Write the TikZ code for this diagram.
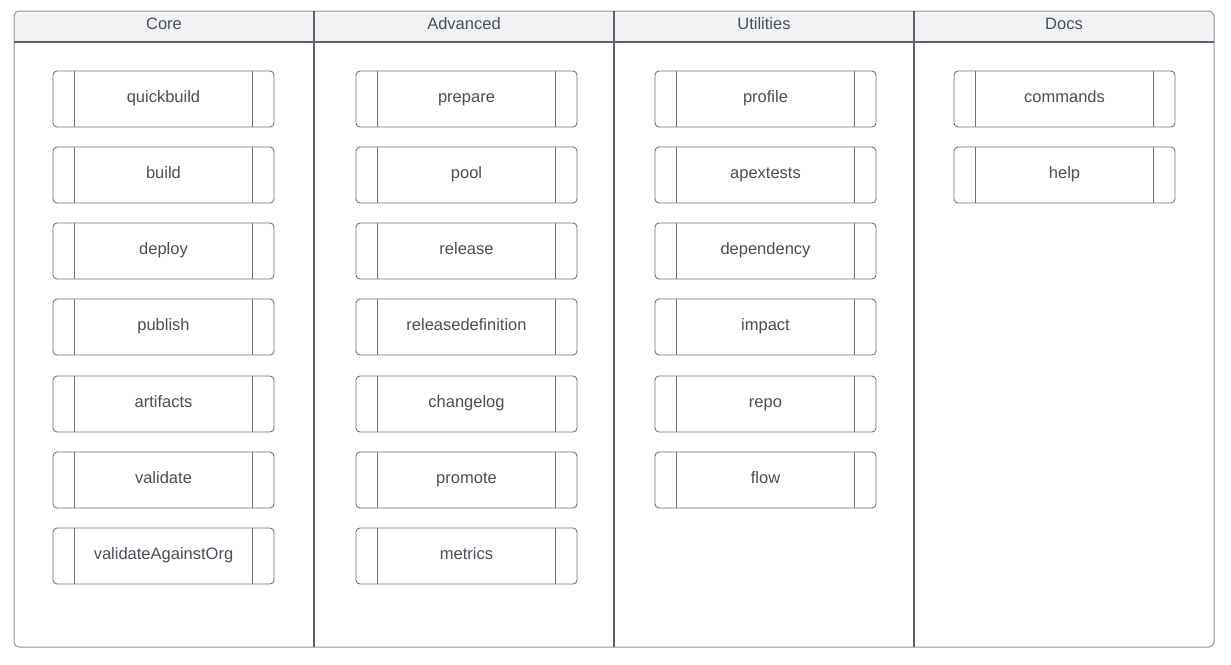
\documentclass[tikz,border=0pt]{standalone}
\usepackage{fontspec}
\setmainfont{Liberation Sans}
\definecolor{txt}{HTML}{4A4F57}
\definecolor{hdrfill}{HTML}{F1F2F4}
\definecolor{frame}{HTML}{8E929A}
\definecolor{divider}{HTML}{5F636A}
\definecolor{nodeline}{HTML}{6E727A}
\tikzset{
  x=1pt,y=-1pt,
  cmd/.style={draw=nodeline,line width=0.9pt,rounded corners=4pt,minimum width=221pt,minimum height=56pt,
    inner sep=0pt,text height=11.5pt,text depth=5pt,text=txt,font=\fontsize{16.5}{19}\selectfont,fill=white},
  hdr/.style={text=txt,text height=11.5pt,text depth=5pt,inner sep=0pt,font=\fontsize{16.5}{19}\selectfont},
}
\newcommand{\cmdnode}[3]{%
  \node[cmd] (#1) at #2 {#3};
  \draw[nodeline,line width=0.9pt] ([xshift=22pt]#1.north west) -- ([xshift=22pt]#1.south west);
  \draw[nodeline,line width=0.9pt] ([xshift=-22pt]#1.north east) -- ([xshift=-22pt]#1.south east);
}
\begin{document}
\begin{tikzpicture}
\useasboundingbox (0,0) rectangle (1231,664);
% header band
\fill[hdrfill,rounded corners=5pt] (14,11) rectangle (1214,42);
\fill[hdrfill] (14,30) rectangle (1214,42);
% outer frame
\draw[frame,line width=1pt,rounded corners=5pt] (14,11) rectangle (1214,647);
\draw[divider,line width=1.1pt] (14,42) -- (1214,42);
\foreach \xx in {314,614,914}{\draw[divider,line width=1.1pt] (\xx,11) -- (\xx,647);}
% headers
\node[hdr] (hcore) at (164,26) {Core};
\node[hdr] (hadv) at (464,26) {Advanced};
\node[hdr] (hutil) at (764,26) {Utilities};
\node[hdr] (hdocs) at (1064,26) {Docs};
% Core
\cmdnode{quickbuild}{(163.5,99)}{quickbuild}
\cmdnode{build}{(163.5,175)}{build}
\cmdnode{deploy}{(163.5,251)}{deploy}
\cmdnode{publish}{(163.5,327)}{publish}
\cmdnode{artifacts}{(163.5,404)}{artifacts}
\cmdnode{validate}{(163.5,480)}{validate}
\cmdnode{validateAgainstOrg}{(163.5,556)}{validateAgainstOrg}
% Advanced
\cmdnode{prepare}{(466.5,99)}{prepare}
\cmdnode{pool}{(466.5,175)}{pool}
\cmdnode{release}{(466.5,251)}{release}
\cmdnode{releasedefinition}{(466.5,327)}{releasedefinition}
\cmdnode{changelog}{(466.5,404)}{changelog}
\cmdnode{promote}{(466.5,480)}{promote}
\cmdnode{metrics}{(466.5,556)}{metrics}
% Utilities
\cmdnode{profile}{(765.5,99)}{profile}
\cmdnode{apextests}{(765.5,175)}{apextests}
\cmdnode{dependency}{(765.5,251)}{dependency}
\cmdnode{impact}{(765.5,327)}{impact}
\cmdnode{repo}{(765.5,404)}{repo}
\cmdnode{flow}{(765.5,480)}{flow}
% Docs
\cmdnode{commands}{(1064.5,99)}{commands}
\cmdnode{help}{(1064.5,175)}{help}
\end{tikzpicture}
\end{document}
